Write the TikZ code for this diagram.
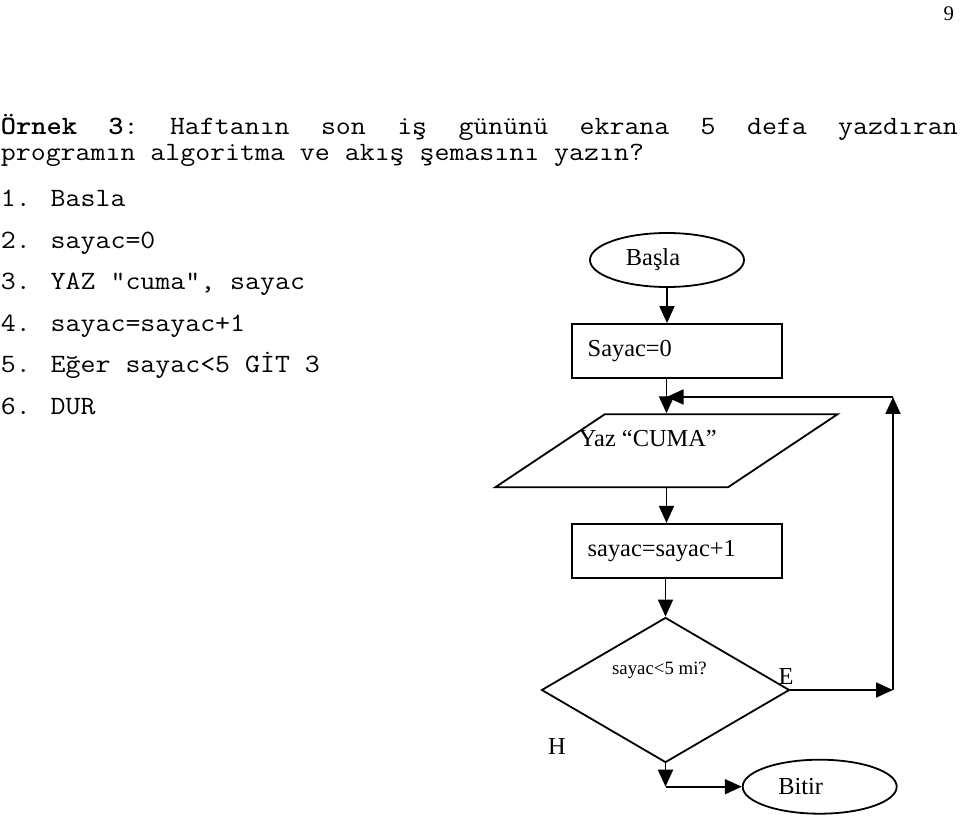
\documentclass[tikz,border=0pt]{standalone}
\usepackage{fontspec}
\setmainfont{Liberation Serif}
\newfontfamily\kodfont{Latin Modern Mono}[FakeStretch=1.1]
\newfontfamily\kodkalin{lmmonolt10-bold.otf}[FakeStretch=1.1]
\usetikzlibrary{shapes.geometric,arrows.meta,positioning}

\begin{document}
\begin{tikzpicture}[x=0.5pt, y=-0.5pt, line width=0.9pt, >={Triangle[length=8.5pt,width=7.5pt]},
	mono/.style={font=\fontsize{13.2}{14}\kodfont, inner sep=0, anchor=base west},
	yazi/.style={font=\fontsize{12.2}{14}\selectfont},
	terminal/.style={draw, ellipse, yazi, minimum width=77pt, minimum height=27pt, inner sep=0},
	islem/.style={draw, rectangle, yazi, minimum width=105pt, minimum height=27pt, inner xsep=8pt, text width=89pt, align=left},
	girdi/.style={draw, trapezium, trapezium left angle=47, trapezium right angle=133, trapezium stretches=true, minimum width=171.5pt, minimum height=36.5pt},
	karar/.style={draw, diamond, minimum width=124pt, minimum height=72.5pt}]
	\useasboundingbox (0,0) rectangle (960,818);

	% sayfa ve soru metni
	\node[yazi, font=\fontsize{10.4}{12}\selectfont, anchor=base east, inner sep=0] (sayfa) at (955,21) {9};
	\node[mono] (soru1) at (0,135) {\makebox[478.5pt][s]{{\kodkalin Örnek}\hfill{\kodkalin 3}:\hfill Haftanın\hfill son\hfill iş\hfill gününü\hfill ekrana\hfill 5\hfill defa\hfill yazdıran}};
	\node[mono] (soru2) at (0,161) {programın algoritma ve akış şemasını yazın?};

	% algoritma
	\node[mono] (adim1) at (0,207) {1. Basla};
	\node[mono] (adim2) at (0,248.5) {2. sayac=0};
	\node[mono] (adim3) at (0,290) {3. YAZ “cuma”, sayac};
	\node[mono] (adim4) at (0,331.5) {4. sayac=sayac+1};
	\node[mono] (adim5) at (0,373) {5. Eğer sayac<5 GİT 3};
	\node[mono] (adim6) at (0,414.5) {6. DUR};

	% akis semasi
	\node[terminal] (basla) at (667,260) {Başla\hspace*{14pt}};
	\node[islem] (sayac) at (676.7,351) {Sayac=0};
	\node[girdi] (yaz) at (666.5,450.7) {\phantom{X}};
	\node[yazi] (yazmetin) at ([xshift=-9.3pt, yshift=6.3pt]yaz.center) {Yaz “CUMA”};
	\node[islem] (artir) at (676.7,550.8) {sayac=sayac+1};
	\node[karar] (kontrol) at (665.5,690) {};
	\node[font=\fontsize{9.4}{11}\selectfont] (kontrolmetin) at ([xshift=-3pt, yshift=10pt]kontrol.center) {sayac<5 mi?};
	\node[terminal] (bitir) at (819.7,786.7) {Bitir\hspace*{19pt}};
	\node[yazi] (evet) at (786,677) {E};
	\node[yazi] (hayir) at (557,747) {H};

	\coordinate (donus1) at (893,690);
	\coordinate (donus2) at (893,397);
	\coordinate (alt) at (kontrol.south |- bitir.west);

	\draw[->] (basla.south) -- (basla.south |- sayac.north);
	\draw[->] (sayac.south -| yaz.north) -- (yaz.north);
	\draw[->] (yaz.south) -- (yaz.south |- artir.north);
	\draw[->] (artir.south -| kontrol.north) -- (kontrol.north);
	\draw[->] (kontrol.east) -- (donus1);
	\draw[->] (donus1) -- (donus2);
	\draw[->] (donus2) -- (donus2 -| yaz.north);
	\draw[->] (kontrol.south) -- (alt);
	\draw[->] (alt) -- (bitir.west);
\end{tikzpicture}
\end{document}
